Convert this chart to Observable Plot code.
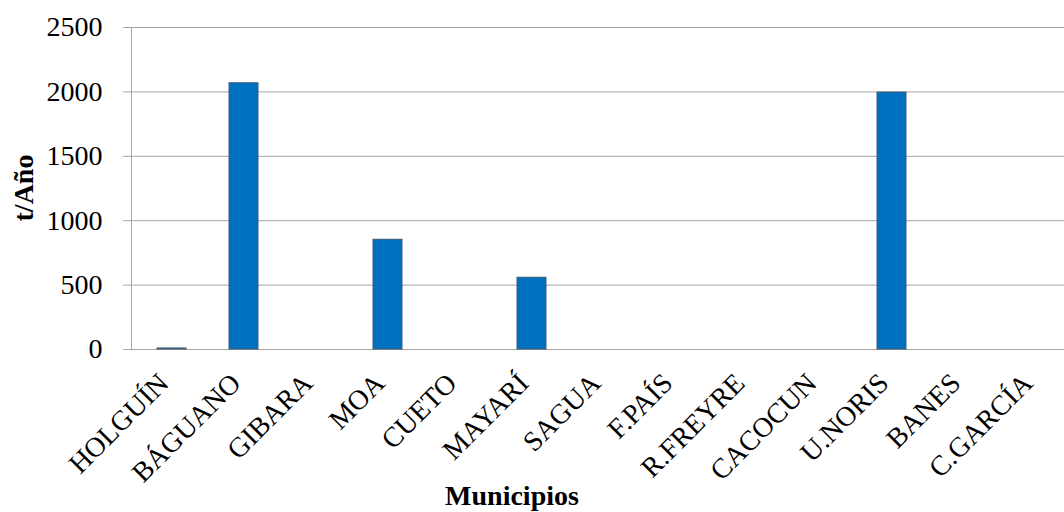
<!DOCTYPE html>
<html><head><meta charset="utf-8">
<script src="https://cdn.jsdelivr.net/npm/d3@7"></script>
<script src="https://cdn.jsdelivr.net/npm/@observablehq/plot@0.6"></script>
<style>
body{margin:0;background:#fff;overflow:hidden;}
svg{font-family:"Liberation Serif","Times New Roman",serif;}
</style></head>
<body><div id="chart"></div>
<script>
const municipios = ["HOLGUÍN","BÁGUANO","GIBARA","MOA","CUETO","MAYARÍ","SAGUA","F.PAÍS","R.FREYRE","CACOCUN","U.NORIS","BANES","C.GARCÍA"];
const valores = [8, 2067, 0, 852, 0, 557, 0, 0, 0, 0, 1995, 0, 0];
const yTicks = [0, 500, 1000, 1500, 2000, 2500];
const data = municipios.map((m, i) => ({m, v: valores[i]}));

const grid = "#a6a6a6";
const chart = Plot.plot({
  width: 1064, height: 512,
  marginLeft: 131, marginRight: -11, marginTop: 27, marginBottom: 163,
  style: {fontFamily: "Liberation Serif, Times New Roman, serif", background: "#fff", color: "#000", overflow: "hidden"},
  x: {domain: municipios, paddingInner: 0.6, paddingOuter: 0.3, align: 0.5, label: null},
  y: {domain: [0, 2500], label: null},
  marks: [
    Plot.ruleY(yTicks, {stroke: grid, strokeWidth: 1}),
    Plot.axisY(yTicks, {tickSize: 8, tickPadding: 21, fontSize: 28, stroke: grid, tickFormat: d => String(d), label: null}),
    Plot.frame({anchor: "left", stroke: grid}),
    Plot.barY(data, {x: "m", y: "v", fill: "#0070C0", stroke: "#3d5a73", strokeWidth: 1}),
    Plot.axisX({ticks: [], label: null}),
    Plot.text(municipios, {x: d => d, frameAnchor: "bottom", rotate: -45, textAnchor: "end", lineAnchor: "middle", dx: -8, dy: 29, fontSize: 28, fill: "#000"})
  ]
});
const svg = d3.select(chart);
svg.append("line").attr("x1", 123).attr("x2", 131).attr("y1", 349.5).attr("y2", 349.5).attr("stroke", grid);
svg.append("text").attr("transform", "translate(33,188) rotate(-90)")
  .attr("text-anchor", "middle").attr("font-weight", "bold").attr("font-size", 28)
  .attr("font-family", "Liberation Serif, serif").text("t/Año");
svg.append("text").attr("x", 512).attr("y", 505)
  .attr("text-anchor", "middle").attr("font-weight", "bold").attr("font-size", 28)
  .attr("font-family", "Liberation Serif, serif").text("Municipios");
document.getElementById("chart").appendChild(chart);
</script></body></html>
